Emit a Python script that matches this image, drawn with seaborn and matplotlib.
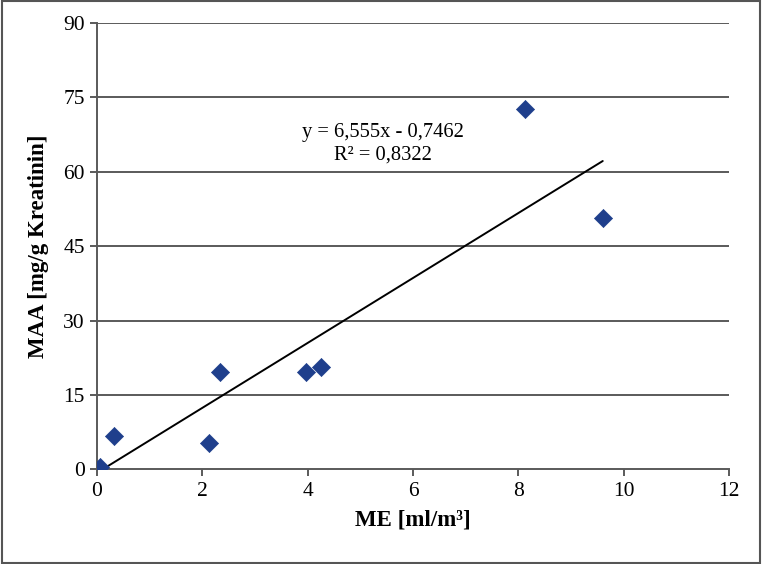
import numpy as np
import pandas as pd
import matplotlib
matplotlib.use("Agg")
import matplotlib.pyplot as plt
import seaborn as sns

# === Data ===
me_values = [0.06, 0.32, 2.13, 2.33, 3.97, 4.25, 8.12, 9.60]
maa_values = [0.4, 6.7, 5.3, 19.6, 19.6, 20.6, 72.7, 50.7]
slope = 6.555
intercept = -0.7462
r_squared = 0.8322

x_ticks = [0, 2, 4, 6, 8, 10, 12]
y_ticks = [0, 15, 30, 45, 60, 75, 90]

df = pd.DataFrame({"ME": me_values, "MAA": maa_values})

# === Style ===
sns.set_style("white")
plt.rcParams["font.family"] = ["Liberation Serif", "DejaVu Serif"]
plt.rcParams["text.color"] = "black"
plt.rcParams["axes.labelcolor"] = "black"
plt.rcParams["xtick.color"] = "black"
plt.rcParams["ytick.color"] = "black"

fig = plt.figure(figsize=(7.62, 5.64), dpi=100)
ax = fig.add_axes([0.127, 0.168, 0.830, 0.791])

grid_col = "#5a5a5a"
for yv in y_ticks[1:]:
    ax.axhline(yv, color=grid_col, lw=1.4, zorder=1)

sns.scatterplot(data=df, x="ME", y="MAA", marker="D", s=85,
                color="#1f3f8c", edgecolor="#1f3f8c", linewidth=0.5,
                zorder=3, ax=ax)

# === Trend line from stated fit ===
fx = np.array([min(me_values), max(me_values)])
ax.plot(fx, slope * fx + intercept, color="black", lw=1.4, zorder=2)

ax.text(5.43, 67.9, "y = 6,555x - 0,7462", ha="center", va="center", fontsize=14.8)
ax.text(5.43, 63.3, f"R² = {r_squared:.4f}".replace(".", ","),
        ha="center", va="center", fontsize=14.8)

ax.set_xlim(0, 12)
ax.set_ylim(0, 90)
ax.set_xticks(x_ticks)
ax.set_yticks(y_ticks)
ax.tick_params(axis="both", labelsize=15.5, length=5, width=1.4,
               color=grid_col, direction="out", bottom=True, left=True)
ax.tick_params(axis="x", pad=4)

for side in ["top", "right"]:
    ax.spines[side].set_visible(False)
for side in ["left", "bottom"]:
    ax.spines[side].set_color(grid_col)
    ax.spines[side].set_linewidth(1.4)

ax.set_xlabel("ME [ml/m³]", fontsize=16.5, fontweight="bold", labelpad=6)
ax.set_ylabel("MAA [mg/g Kreatinin]", fontsize=16.5, fontweight="bold", labelpad=10)

# outer frame
fig.patches.append(plt.Rectangle((0.002, 0.002), 0.996, 0.996, transform=fig.transFigure,
                                 fill=False, edgecolor="#555555", lw=1.5))

fig.savefig("out.png", dpi=100)
plt.close(fig)
